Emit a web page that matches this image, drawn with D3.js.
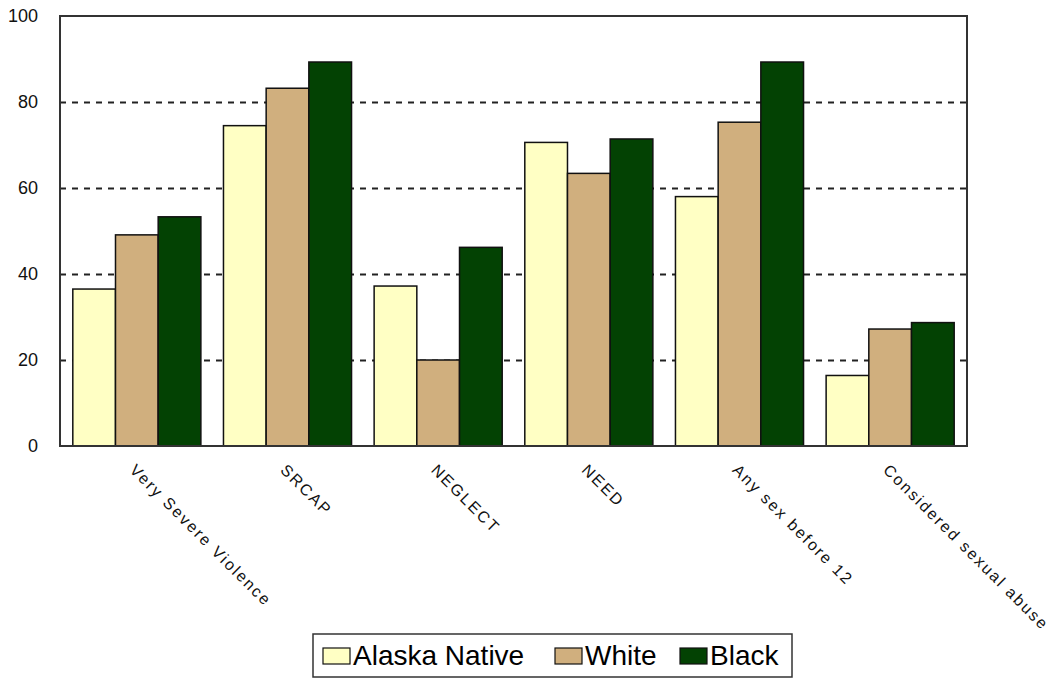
<!DOCTYPE html>
<html>
<head>
<meta charset="utf-8">
<script src="https://cdn.jsdelivr.net/npm/d3@7"></script>
<style>
  html, body { margin: 0; padding: 0; background: #ffffff; }
  svg { display: block; font-family: Arial, "Liberation Sans", sans-serif; }
</style>
</head>
<body>
<svg id="chart" width="1055" height="679"></svg>
<script>
// Categories along the x axis
const categories = [
  "Very Severe Violence",
  "SRCAP",
  "NEGLECT",
  "NEED",
  "Any sex before 12",
  "Considered sexual abuse"
];

// Series names
const seriesNames = ["Alaska Native", "White", "Black"];

// Percent values per series, one per category
const alaskaNative = [36.5, 74.5, 37.2, 70.6, 58.0, 16.4];
const white        = [49.1, 83.2, 20.0, 63.4, 75.3, 27.2];
const black        = [53.3, 89.3, 46.2, 71.4, 89.3, 28.7];

// Y axis ticks
const yTicks = [0, 20, 40, 60, 80, 100];

const seriesValues = [alaskaNative, white, black];
const colors = ["#FFFFC4", "#D0AF7E", "#034203"];

const svg = d3.select("#chart");

const plot = { left: 60, right: 967, top: 16, bottom: 446 };

const y = d3.scaleLinear().domain([0, 100]).range([plot.bottom, plot.top]);

const x0 = d3.scaleBand()
  .domain(categories)
  .range([plot.left, plot.right])
  .paddingInner(0.15)
  .paddingOuter(0.085);

const x1 = d3.scaleBand()
  .domain(seriesNames)
  .range([0, x0.bandwidth()])
  .padding(0);

// Dashed gridlines
const gridG = svg.append("g")
  .attr("transform", `translate(${plot.left},0)`)
  .call(d3.axisLeft(y)
    .tickValues(yTicks.filter(t => t > 0 && t < 100))
    .tickSize(-(plot.right - plot.left))
    .tickFormat(""));
gridG.select(".domain").remove();
gridG.selectAll(".tick line")
  .attr("stroke", "#222")
  .attr("stroke-width", 2)
  .attr("stroke-dasharray", "6,6");

// Bars
const rows = categories.map((c, i) => ({
  category: c,
  values: seriesNames.map((s, j) => ({ series: s, value: seriesValues[j][i], color: colors[j] }))
}));

const groups = svg.append("g").selectAll("g")
  .data(rows)
  .join("g")
  .attr("transform", d => `translate(${x0(d.category)},0)`);

groups.selectAll("rect")
  .data(d => d.values)
  .join("rect")
  .attr("x", d => x1(d.series))
  .attr("y", d => y(d.value))
  .attr("width", x1.bandwidth())
  .attr("height", d => y(0) - y(d.value))
  .attr("fill", d => d.color)
  .attr("stroke", "#111")
  .attr("stroke-width", 1.5);

// Plot frame
svg.append("rect")
  .attr("x", plot.left)
  .attr("y", plot.top)
  .attr("width", plot.right - plot.left)
  .attr("height", plot.bottom - plot.top)
  .attr("fill", "none")
  .attr("stroke", "#333")
  .attr("stroke-width", 2);

// Y axis labels
const yAxis = svg.append("g")
  .attr("transform", `translate(${plot.left},0)`)
  .call(d3.axisLeft(y).tickValues(yTicks).tickSize(0).tickPadding(22));
yAxis.select(".domain").remove();
yAxis.selectAll("text")
  .attr("font-size", 18)
  .attr("font-family", "Arial, 'Liberation Sans', sans-serif")
  .attr("fill", "#111");

// Rotated category labels
svg.append("g").selectAll("text")
  .data(categories)
  .join("text")
  .attr("transform", d => {
    const cx = x0(d) + x0.bandwidth() / 2 - 8;
    return `translate(${cx},471) rotate(45)`;
  })
  .attr("text-anchor", "start")
  .attr("font-size", 16)
  .attr("letter-spacing", "2px")
  .attr("fill", "#111")
  .text(d => d);

// Legend
const legend = svg.append("g");
legend.append("rect")
  .attr("x", 313)
  .attr("y", 634)
  .attr("width", 479)
  .attr("height", 43)
  .attr("fill", "#fff")
  .attr("stroke", "#333")
  .attr("stroke-width", 1.5);

const legendX = [323, 555, 680];
seriesNames.forEach((s, i) => {
  const g = legend.append("g").attr("transform", `translate(${legendX[i]},648)`);
  g.append("rect")
    .attr("width", 27)
    .attr("height", 16)
    .attr("fill", colors[i])
    .attr("stroke", "#111")
    .attr("stroke-width", 1.2);
  g.append("text")
    .attr("x", 30)
    .attr("y", 17)
    .attr("font-size", 28)
    .attr("fill", "#000")
    .text(s);
});
</script>
</body>
</html>
